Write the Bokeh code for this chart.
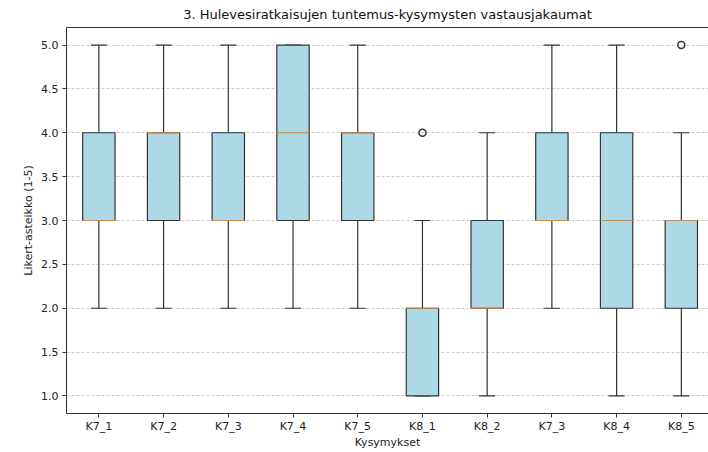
import numpy as np
from bokeh.plotting import figure
from bokeh.models import Range1d, FixedTicker, LinearAxis, PrintfTickFormatter
from bokeh.embed import file_html
from bokeh.resources import INLINE

# Survey questions (x axis) and the five-number summaries of their answers
questions = ["K7_1", "K7_2", "K7_3", "K7_4", "K7_5", "K8_1", "K8_2", "K7_3", "K8_4", "K8_5"]
q1 = [3, 3, 3, 3, 3, 1, 2, 3, 2, 2]
median = [3, 4, 3, 4, 4, 2, 2, 3, 3, 3]
q3 = [4, 4, 4, 5, 4, 2, 3, 4, 4, 3]
whisker_low = [2, 2, 2, 2, 2, 1, 1, 2, 1, 1]
whisker_high = [5, 5, 5, 5, 5, 3, 4, 5, 5, 4]
# Outliers: (question index starting from 1, value)
outlier_pos = [6, 10]
outlier_val = [4, 5]
y_ticks = [1.0, 1.5, 2.0, 2.5, 3.0, 3.5, 4.0, 4.5, 5.0]

FONT = "DejaVu Sans"
INK = "#333333"

pos = np.arange(1, len(questions) + 1)
box_w = 0.5
cap_w = 0.25

p = figure(
    width=708, height=452,
    x_range=Range1d(0.5, 10.42), y_range=Range1d(0.8, 5.2),
    output_backend="svg", toolbar_location=None,
    min_border_left=66, min_border_right=0, min_border_top=27, min_border_bottom=39,
    background_fill_color="white", border_fill_color="white",
)
p.outline_line_color = None

p.title.text = "3. Hulevesiratkaisujen tuntemus-kysymysten vastausjakaumat"
p.title.align = "center"
p.title.vertical_align = "top"
p.title.text_font = FONT
p.title.text_font_size = "13px"
p.title.text_font_style = "normal"
p.title.text_color = "#111111"

xax = p.below[0]
yax = p.left[0]

# x axis
xax.ticker = FixedTicker(ticks=list(pos))
xax.major_label_overrides = {int(i): q for i, q in zip(pos, questions)}
xax.axis_label = "Kysymykset"
# y axis
yax.ticker = FixedTicker(ticks=y_ticks)
yax.formatter = PrintfTickFormatter(format="%.1f")
yax.axis_label = "Likert-asteikko (1-5)"

for ax in [xax, yax]:
    ax.axis_line_color = INK
    ax.major_tick_line_color = INK
    ax.major_tick_out = 4
    ax.major_tick_in = 0
    ax.minor_tick_out = 0
    ax.minor_tick_in = 0
    ax.major_label_text_font = FONT
    ax.major_label_text_font_size = "11px"
    ax.major_label_text_color = "#222222"
    ax.axis_label_text_font = FONT
    ax.axis_label_text_font_size = "11px"
    ax.axis_label_text_font_style = "normal"
    ax.axis_label_text_color = "#222222"

xax.major_label_standoff = 2
xax.axis_label_standoff = 0
yax.major_label_standoff = 4
yax.axis_label_standoff = 3

# top spine: a bare axis line
top = LinearAxis(ticker=FixedTicker(ticks=[]), major_label_text_font_size="0px",
                 major_tick_out=0, major_tick_in=0, minor_tick_out=0, minor_tick_in=0,
                 axis_line_color=INK)
p.add_layout(top, "above")
p.title.standoff = 8

p.xgrid.visible = False
p.ygrid.ticker = FixedTicker(ticks=y_ticks)
p.ygrid.grid_line_color = "#cccccc"
p.ygrid.grid_line_dash = "3 2"
p.ygrid.grid_line_width = 1

# whiskers
p.segment(x0=pos, y0=q3, x1=pos, y1=whisker_high, line_color=INK, line_width=1.2)
p.segment(x0=pos, y0=q1, x1=pos, y1=whisker_low, line_color=INK, line_width=1.2)
# caps
p.segment(x0=pos - cap_w / 2, y0=whisker_high, x1=pos + cap_w / 2, y1=whisker_high,
          line_color=INK, line_width=1.2)
p.segment(x0=pos - cap_w / 2, y0=whisker_low, x1=pos + cap_w / 2, y1=whisker_low,
          line_color=INK, line_width=1.2)
# boxes
p.quad(left=pos - box_w / 2, right=pos + box_w / 2, bottom=q1, top=q3,
       fill_color="lightblue", line_color=INK, line_width=1.2)
# medians
p.segment(x0=pos - box_w / 2, y0=median, x1=pos + box_w / 2, y1=median,
          line_color="#ff7f0e", line_width=1.2)
# outliers
p.scatter(x=outlier_pos, y=outlier_val, marker="circle", size=7,
          fill_color=None, line_color=INK, line_width=1.5)

open("out.html", "w").write(file_html(p, INLINE))
